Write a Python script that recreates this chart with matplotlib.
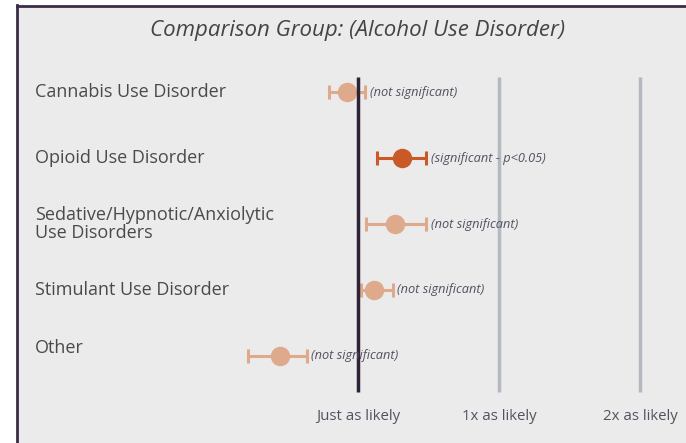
import matplotlib
matplotlib.use('Agg')
import matplotlib.pyplot as plt
from matplotlib.patches import Rectangle
from matplotlib.lines import Line2D

plt.rcParams['font.family'] = ['Open Sans', 'DejaVu Sans']

# Data (0 = just as likely, 1 = 1x, 2 = 2x)
categories = ["Cannabis Use Disorder", "Opioid Use Disorder",
              "Sedative/Hypnotic/Anxiolytic\nUse Disorders",
              "Stimulant Use Disorder", "Other"]
estimate = [-0.075, 0.31, 0.26, 0.115, -0.555]
lower = [-0.205, 0.135, 0.055, 0.02, -0.78]
upper = [0.05, 0.485, 0.485, 0.245, -0.365]
significant = [False, True, False, False, False]
notes = ["(not significant)", "(significant - p<0.05)", "(not significant)",
         "(not significant)", "(not significant)"]
ref_ticks = [0, 1, 2]
ref_labels = ["Just as likely", "1x as likely", "2x as likely"]

W, H = 686, 443
fig = plt.figure(figsize=(W / 100, H / 100), dpi=100, facecolor='white')

# panel background with left/top border
fig.add_artist(Rectangle((16.5 / W, 0), 1, 1 - 5.5 / H, transform=fig.transFigure,
                         facecolor='#ebebeb', edgecolor='none', zorder=-10))
fig.add_artist(Line2D([16.5 / W, 16.5 / W], [0, 1 - 5 / H], transform=fig.transFigure,
                      color='#3a2d48', lw=2, zorder=-5))
fig.add_artist(Line2D([16.5 / W, 1], [1 - 5.5 / H, 1 - 5.5 / H], transform=fig.transFigure,
                      color='#3a2d48', lw=2, zorder=-5))

ax = fig.add_axes([0, 0, 1, 1])
ax.set_axis_off()
ax.patch.set_visible(False)
px = 141.0  # pixels per unit
ax.set_xlim(-358 / px, (W - 358) / px)
rowpx = 66.0
ax.set_ylim((H - 92) / rowpx, -92 / rowpx)

y = list(range(len(categories)))

light = '#dfa98c'
dark = '#c95a27'

for i in y:
    c = dark if significant[i] else light
    ax.errorbar(estimate[i], i, xerr=[[estimate[i] - lower[i]], [upper[i] - estimate[i]]],
                fmt='o', color=c, ms=13, elinewidth=2.2, capsize=5, capthick=2.2, zorder=2)
    ax.text(upper[i] + 0.035, i, notes[i], fontsize=9.2, style='italic', color='#555060',
            va='center', ha='left', zorder=4)
    ax.text(35 / px - 358 / px, i - (0.12 if i == 4 else 0), categories[i], fontsize=13,
            color='#4a4a4a', va='center', ha='left', linespacing=0.95)

for t, lab in zip(ref_ticks, ref_labels):
    col = '#2e2238' if t == 0 else '#b4b8c0'
    ax.plot([t, t], [(77 - 92) / rowpx, (392 - 92) / rowpx], color=col, lw=2.5,
            zorder=3 if t == 0 else 1, solid_capstyle='butt')
    ax.text(t, (417 - 92) / rowpx, lab, fontsize=10.8, color='#555060', ha='center', va='center')

ax.text(0, (30 - 92) / rowpx, "Comparison Group: (Alcohol Use Disorder)", fontsize=16,
        style='italic', color='#444444', ha='center', va='center')

fig.savefig('out.png', dpi=100, facecolor='white')
